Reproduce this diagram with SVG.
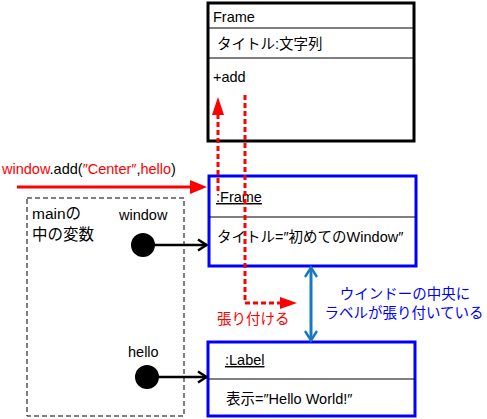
<svg xmlns="http://www.w3.org/2000/svg" width="487" height="419" viewBox="0 0 487 419">
<style>
text{font-family:"Liberation Sans","Noto Sans CJK JP",sans-serif;font-size:14.5px;fill:#000}
.r{fill:#ff0000}
.b{fill:#0000ff}
.box{fill:#fff;stroke-width:3}
.div{stroke:#000;stroke-width:1}
.u{text-decoration:underline}
.big{font-size:15.5px}
</style>
<defs>
<marker id="open" viewBox="0 0 12 14" refX="11" refY="7" markerWidth="12" markerHeight="14" markerUnits="userSpaceOnUse" orient="auto"><path d="M2,1.5 L10.5,7 L2,12.5" fill="none" stroke="#000" stroke-width="2.5"/></marker>
<marker id="bl" viewBox="0 0 14 14" refX="12" refY="7" markerWidth="14" markerHeight="14" markerUnits="userSpaceOnUse" orient="auto-start-reverse"><path d="M2,1 L11.5,7 L2,13" fill="none" stroke="#1a78c2" stroke-width="2.5"/></marker>
</defs>
<g id="frame-class">
<rect class="box" x="208" y="3" width="206" height="138" stroke="#000"/>
<line class="div" x1="208" y1="28" x2="414" y2="28"/>
<line class="div" x1="208" y1="58" x2="414" y2="58"/>
<text x="213" y="22">Frame</text>
<text x="217" y="49">タイトル:文字列</text>
<text x="213" y="82">+add</text>
</g>
<g id="frame-object">
<rect class="box" x="209" y="176" width="207" height="90" stroke="#0000ff"/>
<line class="div" x1="209" y1="217" x2="416" y2="217"/>
<text x="216" y="202" class="u">:Frame</text>
<text x="217" y="242">タイトル=″初めてのWindow″</text>
</g>
<g id="label-object">
<rect class="box" x="208" y="342" width="207" height="74" stroke="#0000ff"/>
<line class="div" x1="208" y1="379" x2="415" y2="379"/>
<text x="225" y="365" class="u">:Label</text>
<text x="226" y="404">表示=″Hello World!″</text>
</g>
<g id="main-vars">
<rect x="27" y="198" width="157" height="218" fill="none" stroke="#000" stroke-width="1" stroke-dasharray="5,3"/>
<text x="32" y="219" class="big">mainの</text>
<text x="32" y="240" class="big">中の変数</text>
</g>
<g id="window-var">
<text x="119" y="220">window</text>
<circle cx="143" cy="245" r="12" fill="#000"/>
</g>
<g id="hello-var">
<text x="128" y="357">hello</text>
<circle cx="147" cy="377" r="12" fill="#000"/>
</g>
<g id="labels">
<text x="2" y="174"><tspan class="r">window</tspan>.add(<tspan class="r">″Center″</tspan>,<tspan class="r">hello</tspan>)</text>
<text x="217" y="324" class="r">張り付ける</text>
<text x="405" y="299" class="b" text-anchor="middle">ウインドーの中央に</text>
<text x="404" y="318" class="b" text-anchor="middle">ラベルが張り付いている</text>
</g>
<g id="connectors">
<line x1="143" y1="245" x2="207" y2="245" stroke="#000" stroke-width="2.5" marker-end="url(#open)"/>
<line x1="147" y1="377" x2="207" y2="377" stroke="#000" stroke-width="2.5" marker-end="url(#open)"/>
<line x1="17" y1="187" x2="191" y2="187" stroke="#ff0000" stroke-width="3"/>
<path d="M190,180 L207,187 L190,194 Z" fill="#ff0000"/>
<line x1="218" y1="191" x2="218" y2="114" stroke="#ff0000" stroke-width="3" stroke-dasharray="5,3"/>
<path d="M212,115 L218,97 L224,115 Z" fill="#ff0000"/>
<polyline points="245,95 245,303 281,303" fill="none" stroke="#ff0000" stroke-width="3" stroke-dasharray="5,3"/>
<path d="M280,297 L297,303 L280,309 Z" fill="#ff0000"/>
<line x1="311" y1="267" x2="311" y2="341" stroke="#1a78c2" stroke-width="3" marker-start="url(#bl)" marker-end="url(#bl)"/>
</g>
</svg>
